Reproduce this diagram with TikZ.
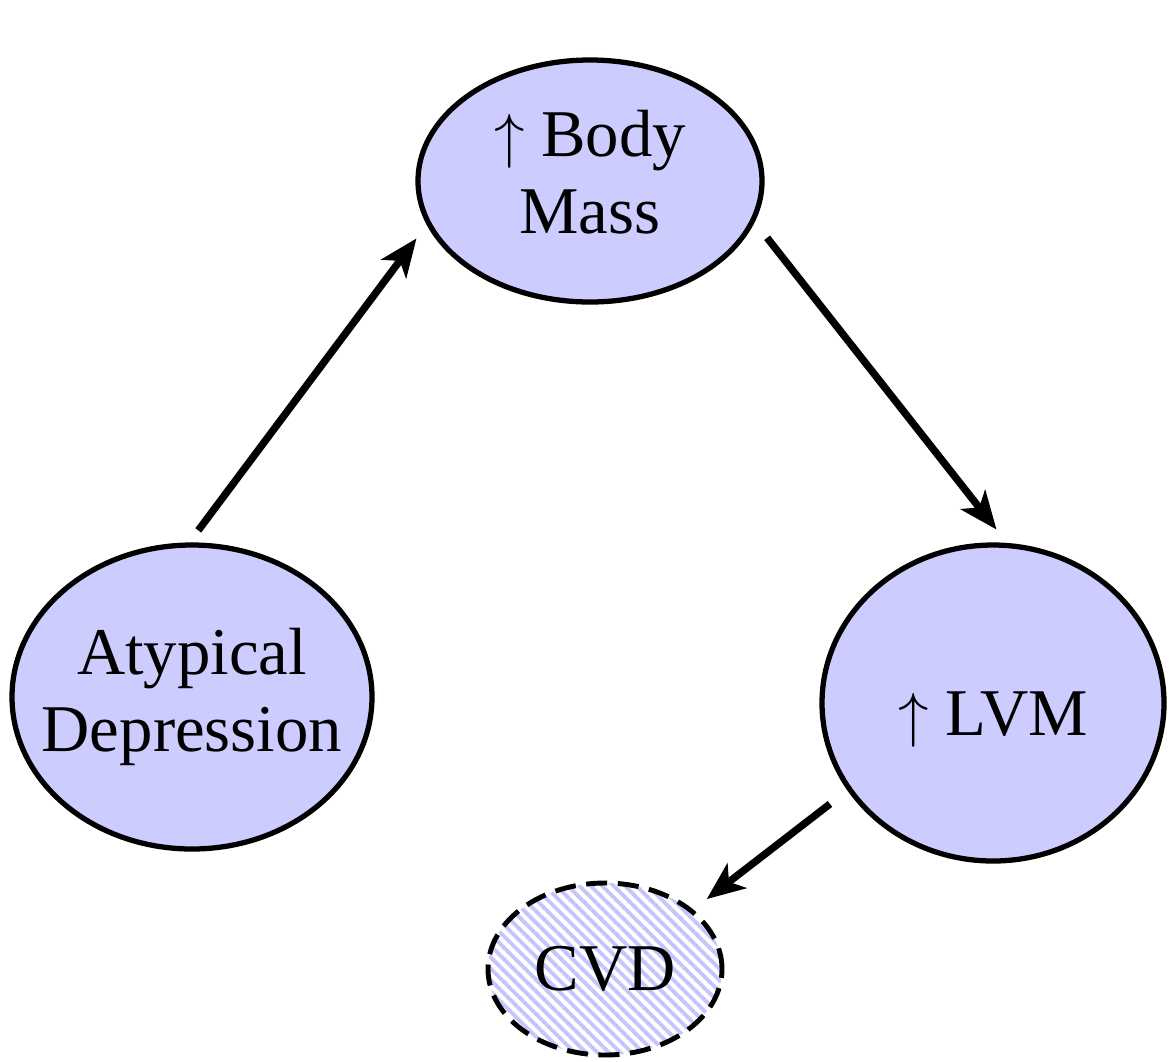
\documentclass[tikz,border=0pt]{standalone}
\usepackage{fontspec}
\setmainfont{Liberation Serif}
\usetikzlibrary{arrows.meta,shapes.geometric,patterns.meta}
\definecolor{lavender}{RGB}{204,204,255}
\definecolor{hatchblue}{RGB}{196,196,255}

\begin{document}
\begin{tikzpicture}[->,>={Stealth[length=3.8mm,width=3.1mm,inset=1mm]},line width=2.1pt,
                    font=\fontsize{19}{22}\selectfont]
  \tikzstyle{factor}=[ellipse,draw=black,line width=1.5pt,fill=lavender,inner sep=0pt,align=center]
  \tikzstyle{outcome}=[ellipse,draw=black,line width=1.4pt,dash pattern=on 6pt off 3pt,
                       pattern={Lines[angle=-45,distance=2.3pt,line width=1.1pt]},pattern color=hatchblue,
                       inner sep=0pt]
  \useasboundingbox (0,0) rectangle (11.73,10.61);

  \node[factor,minimum width=3.44cm,minimum height=2.42cm,text depth=0.18cm] (bm) at (5.90,8.80)
       {$\uparrow$ Body\\Mass};
  \node[factor,minimum width=3.60cm,minimum height=3.04cm,inner xsep=-0.24cm] (ad) at (1.92,3.64)
       {Atypical\\Depression};
  \node[factor,minimum width=3.42cm,minimum height=3.16cm,text height=0.76cm] (lvm) at (9.93,3.58)
       {$\uparrow$ LVM};
  \node[outcome,minimum width=2.34cm,minimum height=1.72cm] (cvd) at (6.05,0.92) {CVD};

  \path (ad.91)   edge[shorten <=1.5mm, shorten >=1.7mm]  (bm.195.5)
        (bm.346)  edge[shorten <=2mm,   shorten >=1.7mm]  (lvm.85)
        (lvm.211) edge[shorten <=2.2mm, shorten >=1.75mm] (cvd.34);
\end{tikzpicture}
\end{document}
